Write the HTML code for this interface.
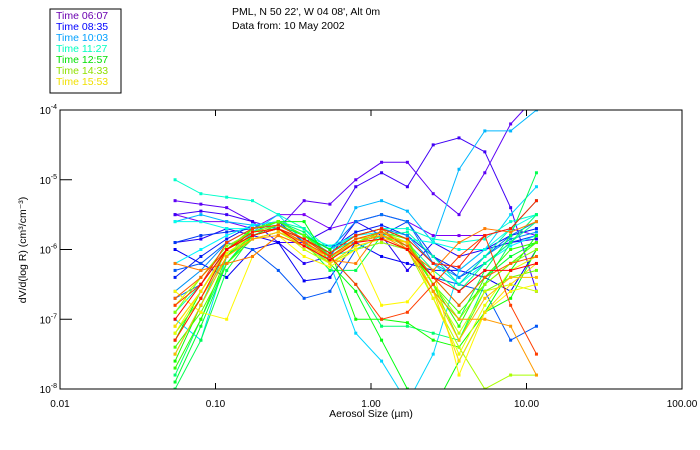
<!DOCTYPE html>
<html><head><meta charset="utf-8"><style>
body{margin:0;background:#fff;}
svg{display:block;font-family:"Liberation Sans",sans-serif;}
</style></head><body>
<svg id="c" width="700" height="450">
<rect x="50" y="9" width="71" height="84" fill="#fff" stroke="#000" stroke-width="1"/>
<g font-size="10.5">
<text x="56" y="19" fill="#6a00b0">Time 06:07</text>
<text x="56" y="30" fill="#0000ff">Time 08:35</text>
<text x="56" y="41" fill="#00a0ff">Time 10:03</text>
<text x="56" y="52" fill="#00ffc0">Time 11:27</text>
<text x="56" y="63" fill="#00e000">Time 12:57</text>
<text x="56" y="74" fill="#90e000">Time 14:33</text>
<text x="56" y="85" fill="#f0e000">Time 15:53</text>
</g>
<text x="232" y="15" font-size="10.5">PML, N 50 22', W 04 08', Alt 0m</text>
<text x="232" y="29" font-size="10.5">Data from: 10 May 2002</text>
<g id="plot"></g>
<rect x="60" y="110" width="622" height="279" fill="none" stroke="#000" stroke-width="1"/>
<g id="axes" font-size="10"></g>
<text x="371" y="417" font-size="10.5" text-anchor="middle">Aerosol Size (µm)</text>
<text transform="translate(26,250) rotate(-90)" font-size="10.5" text-anchor="middle">dV/d(log R) (cm³/cm⁻³)</text>
</svg>
<script>
const sizesLog = [-1.26,-1.094,-0.928,-0.762,-0.596,-0.43,-0.264,-0.098,0.068,0.234,0.4,0.566,0.732,0.898,1.064];
const xTickLabels = ["0.01","0.10","1.00","10.00","100.00"];
const xTickLogs = [-2,-1,0,1,2];
const yTickLogs = [-4,-5,-6,-7,-8];
const yTickExps = ["-4","-5","-6","-7","-8"];
const s01=[-5.5,-5.6,-5.6,-5.7,-5.5,-5.5,-5.7,-5.6,-5.5,-5.6,-5.8,-5.8,-5.8,-5.7,-5.8];
const s02=[-5.3,-5.35,-5.4,-5.6,-5.7,-5.3,-5.35,-5.0,-4.75,-4.75,-5.2,-5.5,-4.9,-4.2,-3.8];
const s03=[-5.5,-5.45,-5.5,-5.6,-5.9,-5.9,-5.7,-5.1,-4.9,-5.1,-4.5,-4.4,-4.6,-5.4,-6.6];
const s04=[-5.9,-5.85,-5.7,-5.8,-5.9,-6.2,-6.1,-5.6,-5.8,-6.3,-5.9,-6.1,-6.0,-5.9,-5.85];
const s05=[-6.0,-6.2,-6.4,-6.0,-5.9,-6.45,-6.4,-5.9,-6.1,-6.2,-6.3,-6.3,-6.4,-6.6,-6.0];
const s06=[-5.9,-5.8,-5.75,-5.7,-5.6,-5.9,-5.95,-5.9,-5.8,-5.6,-6.1,-6.4,-6.2,-5.9,-5.8];
const s07=[-6.3,-6.2,-5.9,-6.0,-6.3,-6.7,-6.6,-6.0,-5.9,-6.0,-6.4,-6.5,-6.6,-7.3,-7.1];
const s08=[-6.7,-6.5,-6.0,-5.7,-5.6,-5.8,-6.0,-5.6,-5.5,-5.6,-6.2,-6.5,-6.1,-5.8,-5.6];
const s09=[-5.6,-5.5,-5.6,-5.65,-5.7,-5.85,-6.1,-5.4,-5.3,-5.45,-5.9,-4.85,-4.3,-4.3,-4.0];
const s10=[-7.0,-7.3,-6.1,-5.75,-5.5,-5.9,-6.2,-7.2,-7.6,-8.2,-7.5,-6.3,-6.0,-5.5,-5.1];
const s11=[-5.6,-5.6,-5.7,-5.7,-5.65,-5.8,-5.95,-5.8,-5.7,-5.85,-5.9,-6.0,-6.0,-5.7,-5.5];
const s12=[-5.0,-5.2,-5.25,-5.3,-5.5,-5.7,-6.0,-5.8,-5.7,-5.7,-5.85,-5.9,-5.85,-5.6,-5.5];
const s13=[-6.9,-6.5,-6.0,-5.7,-5.6,-5.7,-6.1,-6.0,-5.8,-5.75,-6.1,-6.5,-6.1,-5.7,-5.3];
const s14=[-7.8,-7.0,-6.2,-5.75,-5.6,-5.75,-6.1,-6.5,-7.1,-7.1,-7.2,-7.3,-6.5,-5.9,-5.5];
const s15=[-8.0,-7.3,-6.3,-5.8,-5.7,-5.9,-6.3,-6.3,-5.8,-5.9,-6.6,-7.0,-6.3,-5.8,-4.9];
const s16=[-7.3,-6.6,-6.0,-5.7,-5.6,-5.6,-6.2,-6.6,-7.3,-8.0,-8.3,-7.6,-6.9,-6.3,-5.8];
const s17=[-7.6,-6.8,-6.1,-5.7,-5.6,-5.8,-6.0,-7.0,-7.0,-7.05,-7.3,-7.4,-6.9,-6.7,-6.0];
const s18=[-7.4,-6.9,-6.2,-5.85,-5.75,-5.9,-6.15,-5.9,-5.8,-5.9,-6.5,-6.9,-6.5,-6.2,-5.9];
const s19=[-7.2,-6.7,-6.0,-5.7,-5.6,-5.8,-6.1,-5.9,-5.75,-5.85,-6.5,-7.3,-6.6,-6.4,-6.3];
const s20=[-7.1,-6.6,-6.05,-5.85,-5.75,-5.95,-6.2,-6.0,-5.9,-6.0,-6.7,-7.4,-8.0,-7.8,-7.8];
const s21=[-6.8,-6.4,-6.0,-5.75,-5.7,-6.0,-6.2,-5.95,-5.85,-6.0,-6.6,-7.2,-6.6,-6.5,-6.6];
const s22=[-6.6,-6.9,-7.0,-6.1,-5.8,-6.1,-6.25,-6.0,-6.8,-6.75,-6.3,-7.8,-6.9,-6.6,-6.5];
const s23=[-7.1,-6.6,-6.0,-5.8,-5.7,-5.85,-6.2,-5.95,-5.85,-5.9,-6.6,-7.6,-6.9,-6.5,-6.2];
const s24=[-7.3,-6.7,-6.1,-5.85,-5.8,-5.95,-6.1,-5.9,-5.8,-6.0,-6.6,-7.0,-7.0,-7.1,-7.8];
const s25=[-6.2,-6.3,-6.2,-6.1,-5.8,-5.95,-6.15,-6.2,-5.7,-6.0,-6.3,-5.9,-5.7,-5.75,-5.6];
const s26=[-6.8,-6.5,-5.9,-5.7,-5.65,-5.85,-6.1,-6.5,-7.0,-6.9,-6.5,-6.1,-5.8,-6.8,-7.5];
const s27=[-7.3,-6.7,-6.0,-5.75,-5.7,-5.85,-6.05,-5.8,-5.7,-5.85,-6.2,-6.25,-5.8,-5.7,-5.3];
const s28=[-7.0,-6.5,-6.0,-5.8,-5.7,-5.95,-6.15,-5.9,-5.85,-6.0,-6.4,-6.6,-6.3,-6.3,-6.2];
const s29=[-6.4,-6.1,-5.85,-5.65,-5.6,-5.8,-6.0,-5.75,-5.65,-5.8,-6.1,-6.3,-6.0,-5.8,-5.7];
const s30=[-7.5,-6.8,-6.0,-5.7,-5.6,-5.8,-6.05,-5.85,-5.75,-5.9,-6.3,-6.6,-6.2,-5.9,-5.6];
const s31=[-6.6,-6.3,-5.9,-5.7,-5.65,-5.8,-6.0,-5.8,-5.7,-5.8,-6.2,-6.4,-6.1,-5.85,-5.75];
const s32=[-7.7,-7.0,-6.1,-5.8,-5.7,-5.85,-6.1,-5.85,-5.8,-5.95,-6.5,-7.1,-6.4,-6.0,-5.9];
const s33=[-6.2,-6.0,-5.8,-5.65,-5.6,-5.8,-6.05,-5.8,-5.75,-5.85,-6.2,-6.5,-6.2,-5.95,-5.8];
const s34=[-7.9,-7.1,-6.2,-5.8,-5.65,-5.8,-6.1,-5.9,-5.75,-5.9,-6.4,-6.8,-6.4,-6.1,-5.9];
const s35=[-6.9,-6.4,-5.95,-5.75,-5.65,-5.85,-6.05,-5.8,-5.7,-5.85,-6.5,-7.0,-6.5,-6.2,-6.0];
const s36=[-7.2,-6.6,-6.05,-5.8,-5.7,-5.9,-6.15,-5.85,-5.75,-5.9,-6.7,-7.5,-6.8,-6.3,-6.1];
const s37=[-7.5,-6.8,-6.1,-5.85,-5.75,-5.9,-6.1,-5.85,-5.8,-5.9,-6.6,-7.3,-6.7,-6.4,-6.4];
const s38=[-6.7,-6.4,-6.0,-5.75,-5.7,-5.9,-6.1,-5.85,-5.75,-5.95,-6.4,-6.8,-6.4,-6.2,-6.1];
const series=[s01,s02,s03,s04,s05,s29,s06,s07,s08,s31,s09,s10,s33,s11,s12,s13,s30,s14,s15,s34,s16,s17,s32,s18,s19,s35,s20,s21,s36,s22,s23,s37,s24,s25,s38,s26,s27,s28];

const NS="http://www.w3.org/2000/svg";
const X0=60,X1=682,Y0=110,Y1=389;
function xs(l){return X0+(l+2)/4*(X1-X0);}
function ys(l){return Y0+(-4-l)/4*(Y1-Y0);}
function mk(t,a){const e=document.createElementNS(NS,t);for(const k in a)e.setAttribute(k,a[k]);return e;}
const plot=document.getElementById('plot');
const clip=mk('clipPath',{id:'cp'});clip.appendChild(mk('rect',{x:X0,y:Y0,width:X1-X0,height:Y1-Y0}));
document.getElementById('c').appendChild(clip);
plot.setAttribute('clip-path','url(#cp)');
series.forEach((s,i)=>{
  const hue=270-270*i/(series.length-1);
  const col=`hsl(${hue},100%,${hue>200?48:50}%)`;
  const g=mk('g',{});
  
  
  let pts=s.map((v,j)=>xs(sizesLog[j]).toFixed(1)+','+ys(v).toFixed(1)).join(' ');
  const pl=mk('polyline',{points:pts,fill:'none',stroke:col,'stroke-width':1});
  
  
  g.appendChild(pl);
  s.forEach((v,j)=>{
    const r=mk('rect',{x:xs(sizesLog[j])-1.5,y:ys(v)-1.5,width:3,height:3,fill:col});
    
    
    g.appendChild(r);
  });
  plot.appendChild(g);
});
const ax=document.getElementById('axes');
xTickLogs.forEach((l,i)=>{
  const x=xs(l);
  if(i>0&&i<xTickLogs.length-1){
    const t1=mk('line',{x1:x,x2:x,y1:Y1,y2:Y1-6,stroke:'#000'});
    ax.appendChild(t1);
    const t2=mk('line',{x1:x,x2:x,y1:Y0,y2:Y0+6,stroke:'#000'});
    ax.appendChild(t2);
  }
  const t=mk('text',{x:x,y:Y1+18,'text-anchor':'middle'});t.textContent=xTickLabels[i];
  ax.appendChild(t);
});
yTickLogs.forEach((l,i)=>{
  const y=ys(l);
  if(i>0&&i<yTickLogs.length-1){
    const t1=mk('line',{x1:X0,x2:X0+12,y1:y,y2:y,stroke:'#000'});
    ax.appendChild(t1);
  }
  const t=mk('text',{x:X0-3,y:y+4,'text-anchor':'end'});
  const b=mk('tspan',{});b.textContent='10';t.appendChild(b);
  const e=mk('tspan',{dy:-5,'font-size':7});e.textContent=yTickExps[i];t.appendChild(e);
  ax.appendChild(t);
});
</script>
</body></html>
